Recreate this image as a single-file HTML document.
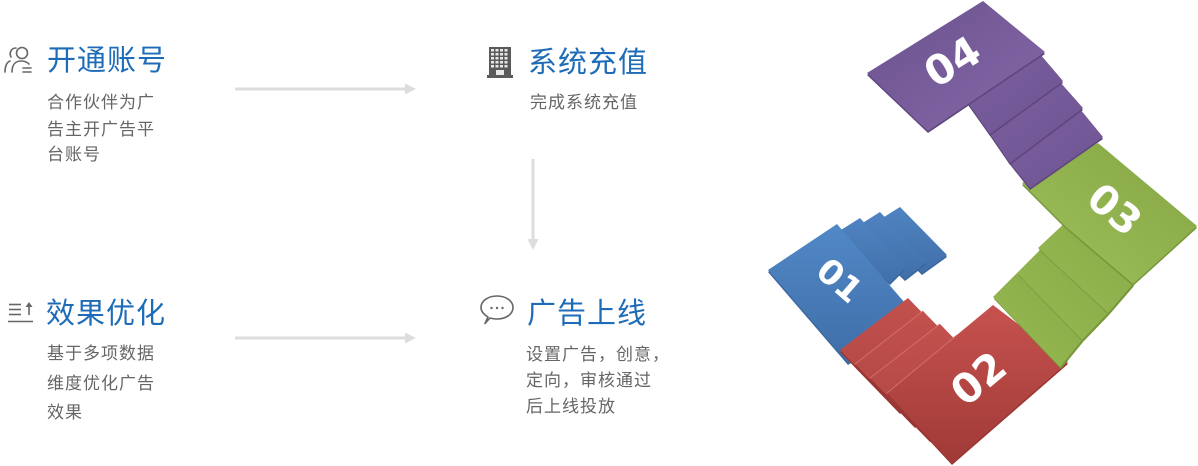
<!DOCTYPE html>
<html>
<head>
<meta charset="utf-8">
<style>
  html,body{margin:0;padding:0;background:#fff;}
  body{width:1198px;height:466px;position:relative;overflow:hidden;
       font-family:"Liberation Sans","Noto Sans CJK SC",sans-serif;}
  .t{position:absolute;font-size:29px;line-height:29px;letter-spacing:1px;color:#1e6bb8;white-space:nowrap;}
  .d{position:absolute;font-size:17px;line-height:17px;letter-spacing:1px;color:#666;white-space:nowrap;}
  svg{position:absolute;left:0;top:0;}
</style>
</head>
<body>
<svg width="1198" height="466" viewBox="0 0 1198 466" xmlns="http://www.w3.org/2000/svg">
  <defs>
    <linearGradient id="gP" x1="0" y1="0" x2="1" y2="1">
      <stop offset="0" stop-color="#6c528f"/><stop offset="1" stop-color="#8467a7"/>
    </linearGradient>
    <linearGradient id="gPs" x1="0" y1="0" x2="1" y2="1">
      <stop offset="0" stop-color="#7a5e9f"/><stop offset="1" stop-color="#6f5592"/>
    </linearGradient>
    <linearGradient id="gG" x1="0" y1="1" x2="1" y2="0">
      <stop offset="0" stop-color="#9ec05c"/><stop offset="1" stop-color="#85a643"/>
    </linearGradient>
    <linearGradient id="gGs" x1="0" y1="1" x2="1" y2="0">
      <stop offset="0" stop-color="#98ba55"/><stop offset="1" stop-color="#88aa46"/>
    </linearGradient>
    <linearGradient id="gR" x1="0" y1="0" x2="0" y2="1">
      <stop offset="0" stop-color="#c6524f"/><stop offset="1" stop-color="#a03a37"/>
    </linearGradient>
    <linearGradient id="gRs" x1="0" y1="0" x2="0" y2="1">
      <stop offset="0" stop-color="#c3514e"/><stop offset="1" stop-color="#ad4441"/>
    </linearGradient>
    <linearGradient id="gB" x1="0" y1="0" x2="0" y2="1">
      <stop offset="0" stop-color="#5288c7"/><stop offset="1" stop-color="#3e6ea8"/>
    </linearGradient>
    <linearGradient id="gBs" x1="0" y1="0" x2="0" y2="1">
      <stop offset="0" stop-color="#4f83c1"/><stop offset="1" stop-color="#4170aa"/>
    </linearGradient>
  </defs>

  <!-- arrows -->
  <g fill="#dddddd" stroke="none">
    <rect x="235" y="87.5" width="171" height="3"/>
    <polygon points="405,83.5 416,89 405,94.5"/>
    <rect x="235" y="336.5" width="171" height="3"/>
    <polygon points="405,332.5 416,338 405,343.5"/>
    <rect x="531.5" y="159" width="3" height="81"/>
    <polygon points="527.5,239 533,250 538.5,239"/>
  </g>

  <!-- icon 1: users -->
  <g fill="none" stroke="#666" stroke-width="1.6" stroke-linecap="round">
    <path d="M11,57 C9,53 11,48 16,48"/>
    <path d="M5,72 C5,66 7,62 10,61"/>
    <circle cx="22" cy="53" r="5.5"/>
    <path d="M12,72 C12,64 16,61 21,61 C24,61 27,62 29,64"/>
    <line x1="23" y1="68" x2="31" y2="68"/>
    <line x1="23" y1="72" x2="31" y2="72"/>
  </g>

  <!-- icon 2: building -->
  <g>
    <rect x="489" y="47" width="22" height="30" fill="#5a5a5a"/>
    <rect x="487" y="75" width="26" height="3" fill="#5a5a5a"/>
    <g fill="#e8e8e8">
      <rect x="491" y="49" width="3" height="2.5"/><rect x="495.5" y="49" width="3" height="2.5"/><rect x="500" y="49" width="3" height="2.5"/><rect x="504.5" y="49" width="3" height="2.5"/>
      <rect x="491" y="53" width="3" height="2.5"/><rect x="495.5" y="53" width="3" height="2.5"/><rect x="500" y="53" width="3" height="2.5"/><rect x="504.5" y="53" width="3" height="2.5"/>
      <rect x="491" y="57" width="3" height="2.5"/><rect x="495.5" y="57" width="3" height="2.5"/><rect x="500" y="57" width="3" height="2.5"/><rect x="504.5" y="57" width="3" height="2.5"/>
      <rect x="491" y="61" width="3" height="2.5"/><rect x="495.5" y="61" width="3" height="2.5"/><rect x="500" y="61" width="3" height="2.5"/><rect x="504.5" y="61" width="3" height="2.5"/>
      <rect x="491" y="65" width="3" height="2.5"/><rect x="495.5" y="65" width="3" height="2.5"/><rect x="500" y="65" width="3" height="2.5"/><rect x="504.5" y="65" width="3" height="2.5"/>
      <rect x="496" y="70" width="8" height="5"/>
    </g>
  </g>

  <!-- icon 3: list up -->
  <g stroke="#666" stroke-width="1.6" fill="none">
    <line x1="9" y1="304.5" x2="21" y2="304.5"/>
    <line x1="9" y1="309.5" x2="21" y2="309.5"/>
    <line x1="9" y1="314.5" x2="21" y2="314.5"/>
    <line x1="29" y1="305" x2="29" y2="315"/>
    <line x1="8" y1="321.5" x2="33" y2="321.5"/>
  </g>
  <polygon points="25.5,307 29,302 32.5,307" fill="#666"/>

  <!-- icon 4: speech bubble -->
  <g fill="none" stroke="#666" stroke-width="1.6" stroke-linejoin="round">
    <path d="M488,317 C483,314 481,311 481,307.5 C481,301 488,296 497,296 C506,296 513,301 513,307.5 C513,314 506,319 497,319 C494,319 492,318.6 490,318 L485,323.5 Z"/>
  </g>
  <g fill="#666">
    <circle cx="491.5" cy="308" r="1.2"/><circle cx="497" cy="308" r="1.2"/><circle cx="502.5" cy="308" r="1.2"/>
  </g>

  <!-- ===== staircase ===== -->
  <!-- blue steps -->
  <g>
    <polygon points="900,207 947,255 922,273 873,224" fill="#3a669b" transform="translate(0,2)"/>
    <polygon points="900,207 947,255 922,273 873,224" fill="url(#gBs)"/>
    <polygon points="880,212 927,262 905,279 853,229" fill="#3a669b" transform="translate(0,2)"/>
    <polygon points="880,212 927,262 905,279 853,229" fill="url(#gBs)"/>
    <polygon points="860,218 905,268 890,283 833,235" fill="#3a669b" transform="translate(0,2)"/>
    <polygon points="860,218 905,268 890,283 833,235" fill="url(#gBs)"/>
    <polygon points="768,270 837,224 917,317 848,363" fill="#3a669b" transform="translate(0,2)"/>
    <polygon points="768,270 837,224 917,317 848,363" fill="url(#gB)"/>
  </g>

  <!-- red steps -->
  <g>
    <polygon points="840,350 908,298 968,360 900,412" fill="#993633" transform="translate(0,2)"/>
    <polygon points="840,350 908,298 968,360 900,412" fill="url(#gRs)"/>
    <polygon points="855,364 923,311 983,373 915,426" fill="#993633" transform="translate(0,2)"/>
    <polygon points="855,364 923,311 983,373 915,426" fill="url(#gRs)"/>
    <polygon points="870,378 940,324 1000,386 930,440" fill="#993633" transform="translate(0,2)"/>
    <polygon points="870,378 940,324 1000,386 930,440" fill="url(#gRs)"/>
    <polygon points="887,393 993,305 1068,362 952,463" fill="#993633" transform="translate(0,2)"/>
    <polygon points="887,393 993,305 1068,362 952,463" fill="url(#gR)"/>
    <line x1="855" y1="364" x2="923" y2="311" stroke="#d46d6a" stroke-width="1"/>
    <line x1="870" y1="378" x2="940" y2="324" stroke="#d46d6a" stroke-width="1"/>
    <line x1="887" y1="393" x2="957" y2="335" stroke="#d46d6a" stroke-width="1"/>
  </g>

  <!-- green steps -->
  <g>
    <polygon points="993,297 1017,273 1082,340 1060,367" fill="#76963a" transform="translate(1,2)"/>
    <polygon points="993,297 1017,273 1082,340 1060,367" fill="url(#gGs)"/>
    <polygon points="1017,273 1042,248 1108,313 1082,340" fill="#76963a" transform="translate(1,2)"/>
    <polygon points="1017,273 1042,248 1108,313 1082,340" fill="url(#gGs)"/>
    <polygon points="1038,248 1068,220 1133,284 1108,313" fill="#76963a" transform="translate(1,2)"/>
    <polygon points="1038,248 1068,220 1133,284 1108,313" fill="url(#gGs)"/>
    <polygon points="1022,183 1098,143 1197,226 1133,284 1065,226" fill="#76963a" transform="translate(0,2)"/>
    <polygon points="1022,183 1098,143 1197,226 1133,284 1065,226" fill="url(#gG)"/>
  </g>

  <!-- purple steps -->
  <g>
    <polygon points="1008,160 1080,109 1103,137 1030,188" fill="#5e477d" transform="translate(0,2)"/>
    <polygon points="1008,160 1080,109 1103,137 1030,188" fill="url(#gPs)"/>
    <polygon points="988,131 1060,82 1083,108 1010,163" fill="#5e477d" transform="translate(0,2)"/>
    <polygon points="988,131 1060,82 1083,108 1010,163" fill="url(#gPs)"/>
    <polygon points="968,103 1040,54 1063,81 990,134" fill="#5e477d" transform="translate(0,2)"/>
    <polygon points="968,103 1040,54 1063,81 990,134" fill="url(#gPs)"/>
    <polygon points="867,73 983,1 1045,52 928,131" fill="#5e477d" transform="translate(0,2)"/>
    <polygon points="867,73 983,1 1045,52 928,131" fill="url(#gP)"/>
  </g>

  <!-- numbers -->
  <g font-family="DejaVu Sans, Liberation Sans, sans-serif" font-weight="bold" fill="#ffffff" text-anchor="middle">
    <text transform="translate(952,61) rotate(-32)" x="0" y="15" font-size="41">04</text>
    <text transform="translate(1115,209) rotate(40)" x="0" y="14.5" font-size="40">03</text>
    <text transform="translate(978,378) rotate(-40)" x="0" y="15" font-size="41">02</text>
    <text transform="translate(840,280) rotate(41)" x="0" y="12.5" font-size="34">01</text>
  </g>
</svg>

<div class="t" style="left:47px;top:47px;">开通账号</div>
<div class="d" style="left:47px;top:94px;">合作伙伴为广</div>
<div class="d" style="left:47px;top:121px;">告主开广告平</div>
<div class="d" style="left:47px;top:146px;">台账号</div>

<div class="t" style="left:528px;top:49px;">系统充值</div>
<div class="d" style="left:530px;top:94px;">完成系统充值</div>

<div class="t" style="left:46px;top:300px;">效果优化</div>
<div class="d" style="left:47px;top:345px;">基于多项数据</div>
<div class="d" style="left:47px;top:375px;">维度优化广告</div>
<div class="d" style="left:47px;top:404px;">效果</div>

<div class="t" style="left:527px;top:300px;">广告上线</div>
<div class="d" style="left:526px;top:346px;">设置广告，创意，</div>
<div class="d" style="left:526px;top:372px;">定向，审核通过</div>
<div class="d" style="left:526px;top:398px;">后上线投放</div>
</body>
</html>
